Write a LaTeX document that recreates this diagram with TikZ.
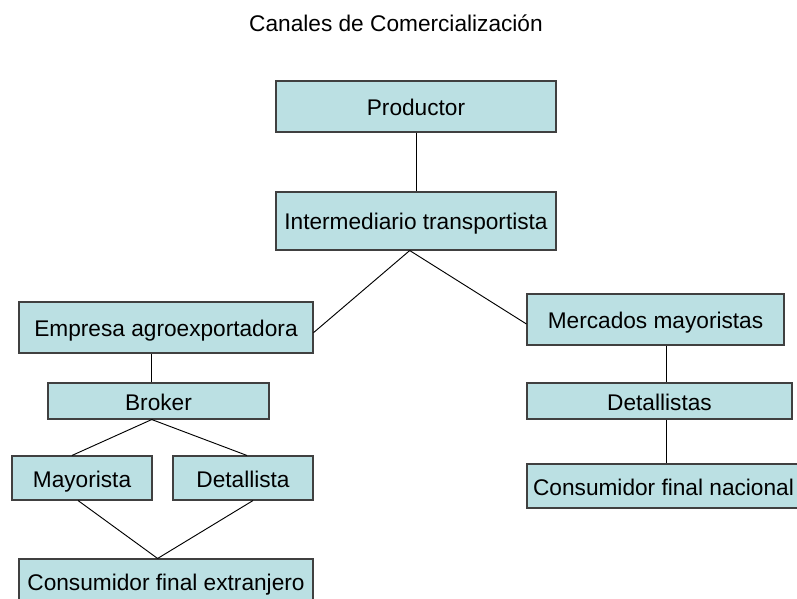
\documentclass[tikz,border=0pt]{standalone}
\usepackage{fontspec}
\setmainfont{Liberation Sans}
\usetikzlibrary{positioning}
\definecolor{boxfill}{RGB}{187,224,227}

\begin{document}
\begin{tikzpicture}[x=0.75pt,y=-0.75pt]
   \tikzstyle{bx}=[rectangle,draw=black!75,line width=0.8pt,fill=boxfill,inner sep=0pt,text height=13.5pt,text depth=0pt,font=\fontsize{17}{20}\selectfont]
   \tikzstyle{ln}=[black,line width=0.7pt]
   \tikzstyle{head}=[font=\fontsize{17}{20}\selectfont,anchor=base]

   \useasboundingbox (0,0) rectangle (797,599);

   \node (title) [head] at (396,32) {Canales de Comercialización} ;

   \node (prod) [bx,minimum width=210pt,minimum height=38.25pt] at (416,106.5) {Productor} ;
   \node (inter) [bx,minimum width=210pt,minimum height=43.5pt] at (416,221) {Intermediario transportista} ;
   \node (emp) [bx,minimum width=220.5pt,minimum height=38.25pt] at (166,327.5) {Empresa agroexportadora} ;
   \node (merc) [bx,minimum width=192.75pt,minimum height=38.25pt] at (655.5,319.5) {Mercados mayoristas} ;
   \node (brok) [bx,minimum width=165.75pt,minimum height=27pt] at (158.5,401) {Broker} ;
   \node (may) [bx,minimum width=105pt,minimum height=33pt] at (82,478) {Mayorista} ;
   \node (det) [bx,minimum width=105pt,minimum height=33pt] at (243,478) {Detallista} ;
   \node (cext) [bx,minimum width=220.5pt,minimum height=33.75pt] at (166,581.5) {Consumidor final extranjero} ;
   \node (dets) [bx,minimum width=198.75pt,minimum height=27pt] at (659.5,401) {Detallistas} ;
   \node (cnac) [bx,minimum width=204.75pt,minimum height=33pt] at (663.5,486) {Consumidor final nacional} ;

   \draw [ln] (prod) -- (inter) ;
   \draw [ln] (inter.-102) -- (emp.-2) ;
   \draw [ln] (inter.-102) -- (merc.182) ;
   \draw [ln] (brok.north -| emp.-119) -- (emp.-119) ;
   \draw [ln] (brok.-110) -- (may.114) ;
   \draw [ln] (brok.-110) -- (det.80) ;
   \draw [ln] (may.-100) -- (cext.110) ;
   \draw [ln] (det.-66) -- (cext.110) ;
   \draw [ln] (merc.-68) -- (merc.-68 |- dets.north) ;
   \draw [ln] (dets.south -| merc.-68) -- (merc.-68 |- cnac.north) ;
\end{tikzpicture}
\end{document}
